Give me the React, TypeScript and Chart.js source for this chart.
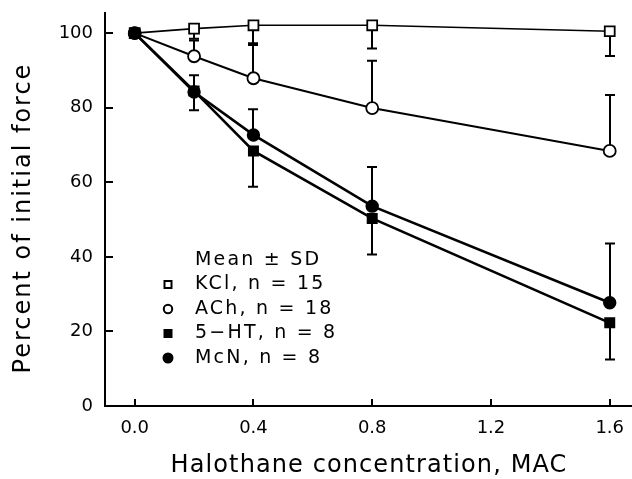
import React, { useEffect, useRef } from "react";
import { Chart, registerables } from "chart.js";

Chart.register(...registerables);

// ---- data ----
const concentrations = [0, 0.2, 0.4, 0.8, 1.6];
const kclMean = [100, 101.2, 102.1, 102.1, 100.5];
const kclLower = [null, 98.5, 97.3, 95.9, 93.9];
const achMean = [100, 93.8, 87.9, 79.9, 68.4];
const achUpper = [null, 98.0, 96.8, 92.6, 83.4];
const htMean = [100, 84.5, 68.4, 50.3, 22.3];
const htLower = [null, 79.3, 58.8, 40.6, 12.5];
const mcnMean = [100, 84.2, 72.7, 53.6, 27.7];
const mcnUpper = [null, 88.7, 79.6, 64.1, 43.6];
const xTicks = [0, 0.4, 0.8, 1.2, 1.6];
const yTicks = [0, 20, 40, 60, 80, 100];
const seriesLabels = ["KCl, n = 15", "ACh, n = 18", "5\u2212HT, n = 8", "McN, n = 8"];
const legendHeader = "Mean \u00b1 SD";
const xTitle = "Halothane concentration, MAC";
const yTitle = "Percent of initial force";

const FONT = "'DejaVu Sans', sans-serif";

function drawMarker(ctx: CanvasRenderingContext2D, kind: string, filled: boolean, x: number, y: number, r: number) {
  ctx.beginPath();
  if (kind === "rect") {
    ctx.rect(x - r, y - r, 2 * r, 2 * r);
  } else {
    ctx.arc(x, y, r, 0, Math.PI * 2);
  }
  ctx.fillStyle = filled ? "#000" : "#fff";
  ctx.fill();
  ctx.lineWidth = 2;
  ctx.strokeStyle = "#000";
  ctx.stroke();
}

const errorBarPlugin = {
  id: "errorBars",
  beforeDatasetsDraw(chart: any) {
    const { ctx, scales } = chart;
    const xs = scales.x;
    const ys = scales.y;
    ctx.save();
    ctx.strokeStyle = "#000";
    ctx.lineWidth = 2;
    chart.data.datasets.forEach((ds: any) => {
      const ends = ds.errorEnds as (number | null)[];
      const means = ds.means as number[];
      ends.forEach((e, i) => {
        if (e == null) return;
        const px = Math.round(xs.getPixelForValue(concentrations[i]));
        const p0 = ys.getPixelForValue(means[i]);
        const p1 = ys.getPixelForValue(e);
        ctx.beginPath();
        ctx.moveTo(px, p0);
        ctx.lineTo(px, p1);
        ctx.moveTo(px - 5, p1);
        ctx.lineTo(px + 5, p1);
        ctx.stroke();
      });
    });
    ctx.restore();
  },
};

const decorPlugin = {
  id: "decor",
  afterDraw(chart: any) {
    const { ctx, scales, chartArea } = chart;
    const xs = scales.x;
    const ys = scales.y;
    ctx.save();
    // inward tick marks
    ctx.strokeStyle = "#000";
    ctx.lineWidth = 2;
    ys.ticks.forEach((t: any) => {
      const py = Math.round(ys.getPixelForValue(t.value));
      ctx.beginPath();
      ctx.moveTo(chartArea.left, py);
      ctx.lineTo(chartArea.left + 8, py);
      ctx.stroke();
    });
    xs.ticks.forEach((t: any) => {
      const px = Math.round(xs.getPixelForValue(t.value));
      ctx.beginPath();
      ctx.moveTo(px, chartArea.bottom);
      ctx.lineTo(px, chartArea.bottom - 7);
      ctx.stroke();
    });

    // axis titles
    ctx.fillStyle = "#000";
    (ctx as any).letterSpacing = "1.1px";
    ctx.font = `24px ${FONT}`;
    ctx.textAlign = "center";
    ctx.textBaseline = "alphabetic";
    ctx.fillText(xTitle, 369, 472);
    ctx.save();
    (ctx as any).letterSpacing = "2px";
    ctx.translate(30, 218);
    ctx.rotate(-Math.PI / 2);
    ctx.fillText(yTitle, 0, 0);
    ctx.restore();

    // legend
    (ctx as any).letterSpacing = "2.2px";
    ctx.font = `19px ${FONT}`;
    ctx.textAlign = "left";
    ctx.textBaseline = "middle";
    ctx.fillText(legendHeader, 195, 260);
    const styles = [
      ["rect", false, 3.5],
      ["circle", false, 4.2],
      ["rect", true, 3.5],
      ["circle", true, 4.5],
    ];
    seriesLabels.forEach((lab, i) => {
      const cy = 284.5 + i * 24.5;
      const [k, f, r] = styles[i] as [string, boolean, number];
      drawMarker(ctx, k, f, 168, cy, r);
      ctx.fillStyle = "#000";
      ctx.fillText(lab, 195, cy);
    });
    ctx.restore();
  },
};

function makeDataset(label: string, means: number[], ends: (number | null)[], style: string, filled: boolean, radius: number, width: number, order: number) {
  return {
    label,
    data: concentrations.map((x, i) => ({ x, y: means[i] })),
    means,
    errorEnds: ends,
    showLine: true,
    borderColor: "#000",
    borderWidth: width,
    pointStyle: style,
    pointRadius: radius,
    pointBorderWidth: 1.8,
    pointBorderColor: "#000",
    pointBackgroundColor: filled ? "#000" : "#fff",
    tension: 0,
    order,
  };
}

export default function App() {
  const ref = useRef<HTMLCanvasElement | null>(null);
  useEffect(() => {
    document.body.style.margin = "0";
    const canvas = ref.current!;
    const chart = new Chart(canvas, {
      type: "scatter",
      data: {
        datasets: [
          makeDataset(seriesLabels[0], kclMean, kclLower, "rect", false, 7, 1.6, 3),
          makeDataset(seriesLabels[1], achMean, achUpper, "circle", false, 6, 2, 2),
          makeDataset(seriesLabels[2], htMean, htLower, "rect", true, 6.5, 2.6, 1),
          makeDataset(seriesLabels[3], mcnMean, mcnUpper, "circle", true, 5.8, 2.6, 0),
        ] as any,
      },
      options: {
        animation: false,
        responsive: false,
        devicePixelRatio: 1,
        layout: { autoPadding: false, padding: { top: 13, left: 0, right: 0, bottom: 0 } },
        plugins: { legend: { display: false }, tooltip: { enabled: false } },
        scales: {
          x: {
            type: "linear",
            min: -0.1,
            max: 1.675,
            afterBuildTicks: (s: any) => {
              s.ticks = xTicks.map((v) => ({ value: v }));
            },
            afterFit: (s: any) => {
              s.height = 73;
              s.paddingLeft = 0;
              s.paddingRight = 0;
            },
            grid: { display: false, drawTicks: false },
            border: { display: true, color: "#000", width: 2 },
            ticks: {
              color: "#000",
              font: { family: FONT, size: 18 },
              padding: 12,
              maxRotation: 0,
              callback: (v: any) => Number(v).toFixed(1),
            },
          },
          y: {
            type: "linear",
            min: 0,
            max: 105.4,
            afterBuildTicks: (s: any) => {
              s.ticks = yTicks.map((v) => ({ value: v }));
            },
            afterFit: (s: any) => {
              s.width = 105;
              s.paddingTop = 0;
              s.paddingBottom = 0;
            },
            grid: { display: false, drawTicks: false },
            border: { display: true, color: "#000", width: 2 },
            ticks: {
              color: "#000",
              font: { family: FONT, size: 18 },
              padding: 12,
              callback: (v: any) => String(v),
            },
          },
        },
      },
      plugins: [errorBarPlugin, decorPlugin],
    });
    return () => chart.destroy();
  }, []);
  return (
    <div style={{ position: "fixed", left: 0, top: 0, width: 632, height: 479, background: "#fff" }}>
      <canvas ref={ref} width={632} height={479} />
    </div>
  );
}
